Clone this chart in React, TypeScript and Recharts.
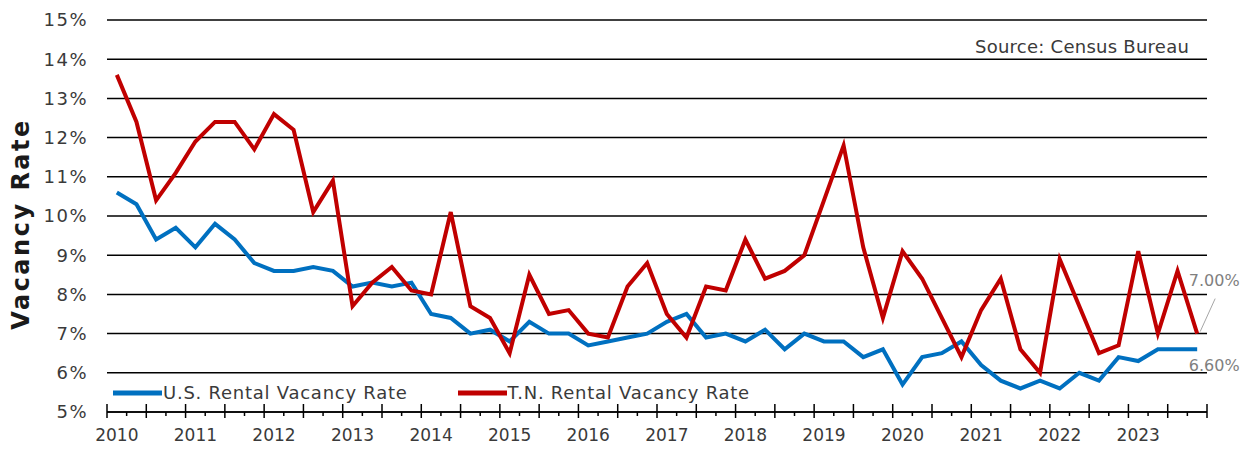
import React from 'react';
import { LineChart, Line, XAxis, YAxis, CartesianGrid, Legend, LabelList } from 'recharts';

const years = ['2010', '2011', '2012', '2013', '2014', '2015', '2016', '2017', '2018', '2019', '2020', '2021', '2022', '2023'];
const quarterNames = ['Q1', 'Q2', 'Q3', 'Q4'];
const quarters = years.flatMap((y) => quarterNames.map((q) => `${y} ${q}`));

const usRate = [
  10.6, 10.3, 9.4, 9.7, 9.2, 9.8, 9.4, 8.8, 8.6, 8.6,
  8.7, 8.6, 8.2, 8.3, 8.2, 8.3, 7.5, 7.4, 7.0, 7.1,
  6.8, 7.3, 7.0, 7.0, 6.7, 6.8, 6.9, 7.0, 7.3, 7.5,
  6.9, 7.0, 6.8, 7.1, 6.6, 7.0, 6.8, 6.8, 6.4, 6.6,
  5.7, 6.4, 6.5, 6.8, 6.2, 5.8, 5.6, 5.8, 5.6, 6.0,
  5.8, 6.4, 6.3, 6.6, 6.6, 6.6,
];

const tnRate = [
  13.6, 12.4, 10.4, 11.1, 11.9, 12.4, 12.4, 11.7, 12.6, 12.2,
  10.1, 10.9, 7.7, 8.3, 8.7, 8.1, 8.0, 10.1, 7.7, 7.4,
  6.5, 8.5, 7.5, 7.6, 7.0, 6.9, 8.2, 8.8, 7.5, 6.9,
  8.2, 8.1, 9.4, 8.4, 8.6, 9.0, 10.4, 11.8, 9.2, 7.4,
  9.1, 8.4, 7.4, 6.4, 7.6, 8.4, 6.6, 6.0, 8.9, 7.7,
  6.5, 6.7, 9.1, 7.0, 8.6, 7.0,
];

const yTicks = [5, 6, 7, 8, 9, 10, 11, 12, 13, 14, 15];

const series = [
  { key: 'us', name: 'U.S. Rental Vacancy Rate', color: '#0070C0' },
  { key: 'tn', name: 'T.N. Rental Vacancy Rate', color: '#C00000' },
];

const data = quarters.map((q, i) => ({ quarter: q, pos: i + 0.5, us: usRate[i], tn: tnRate[i] }));
const lastIndex = data.length - 1;
const boundaryTicks = Array.from({ length: quarters.length + 1 }, (_, i) => i);
const yearTicks = years.map((_, k) => k * 4 + 0.5);

const FONT = "'DejaVu Sans', sans-serif";
const TEXT = '#3a3a3a';

const renderQuarterTick = (props: any) => {
  const { x, y, payload } = props;
  const major = payload.value % 2 === 0;
  return (
    <g>
      {major ? (
        <line x1={x} x2={x} y1={y - 8} y2={y + 6} stroke="#000" strokeWidth={1.5} />
      ) : (
        <line x1={x} x2={x} y1={y} y2={y + 4} stroke="#000" strokeWidth={1.5} />
      )}
    </g>
  );
};

const makeEndLabel = (above: boolean) => (props: any) => {
  const { x, y, index, value } = props;
  if (index !== lastIndex) return null;
  const label = `${Number(value).toFixed(2)}%`;
  if (above) {
    return (
      <g>
        <line x1={x + 3} y1={y - 2} x2={x + 18} y2={y - 35} stroke="#a6a6a6" strokeWidth={1} />
        <text x={x + 17} y={y - 53} textAnchor="middle" dominantBaseline="central" fontFamily={FONT} fontSize={16} fill="#7f7f7f">
          {label}
        </text>
      </g>
    );
  }
  return (
    <text x={x + 17} y={y + 16} textAnchor="middle" dominantBaseline="central" fontFamily={FONT} fontSize={16} fill="#7f7f7f">
      {label}
    </text>
  );
};

const renderLegend = () => (
  <div style={{ display: 'flex', alignItems: 'center', fontFamily: FONT, fontSize: 18, letterSpacing: 0.75, color: TEXT, whiteSpace: 'nowrap' }}>
    {series.map((s) => (
      <div key={s.key} style={{ display: 'flex', alignItems: 'center', marginRight: 50 }}>
        <svg width={49} height={8} style={{ display: 'block' }}>
          <line x1={0} y1={4} x2={49} y2={4} stroke={s.color} strokeWidth={5} />
        </svg>
        <span style={{ marginLeft: 1 }}>{s.name}</span>
      </div>
    ))}
  </div>
);

const YTitle = (props: any) => {
  const vb = props.viewBox || {};
  const cx = (vb.x || 0) + 21;
  const cy = (vb.y || 0) + (vb.height || 0) / 2 + 8;
  return (
    <text
      x={0}
      y={0}
      transform={`translate(${cx}, ${cy}) rotate(-90)`}
      textAnchor="middle"
      dominantBaseline="central"
      fontFamily={FONT}
      fontWeight="bold"
      fontSize={24}
      letterSpacing={2.5}
      fill="#1a1a1a"
    >
      Vacancy Rate
    </text>
  );
};

export default function App() {
  return (
    <div style={{ position: 'absolute', left: 0, top: 0, width: 1248, height: 449, background: '#fff' }}>
      <LineChart width={1248} height={449} data={data} margin={{ top: 20, right: 41, left: 0, bottom: 0 }}>
        <CartesianGrid vertical={false} stroke="#000" strokeWidth={1.5} />
        <XAxis
          xAxisId="main"
          type="number"
          dataKey="pos"
          domain={[0, quarters.length]}
          allowDataOverflow
          ticks={boundaryTicks}
          interval={0}
          height={12}
          tickSize={0}
          tickMargin={0}
          tickLine={false}
          tick={renderQuarterTick}
          axisLine={{ stroke: '#000', strokeWidth: 1.5 }}
        />
        <XAxis
          xAxisId="years"
          type="number"
          dataKey="pos"
          domain={[0, quarters.length]}
          allowDataOverflow
          ticks={yearTicks}
          interval={0}
          height={25}
          tickSize={0}
          tickMargin={5}
          tickLine={false}
          axisLine={false}
          tickFormatter={(v: number) => years[Math.round((v - 0.5) / 4)]}
          tick={{ fontFamily: FONT, fontSize: 17, fill: TEXT }}
        />
        <YAxis
          type="number"
          domain={[5, 15]}
          ticks={yTicks}
          interval={0}
          width={107}
          axisLine={false}
          tickLine={false}
          tickSize={0}
          tickMargin={19}
          tickFormatter={(v: number) => `${v}%`}
          tick={{ fontFamily: FONT, fontSize: 18, letterSpacing: 1.5, fill: TEXT }}
          label={{ content: (p: any) => <YTitle {...p} /> }}
        />
        <Legend
          layout="horizontal"
          align="center"
          verticalAlign="middle"
          wrapperStyle={{ left: 113, top: 382, width: 'auto' }}
          content={renderLegend}
        />
        <Line
          xAxisId="main"
          type="linear"
          dataKey="us"
          name={series[0].name}
          stroke={series[0].color}
          strokeWidth={4}
          dot={false}
          activeDot={false}
          isAnimationActive={false}
        >
          <LabelList dataKey="us" content={makeEndLabel(false)} />
        </Line>
        <Line
          xAxisId="main"
          type="linear"
          dataKey="tn"
          name={series[1].name}
          stroke={series[1].color}
          strokeWidth={4}
          dot={false}
          activeDot={false}
          isAnimationActive={false}
        >
          <LabelList dataKey="tn" content={makeEndLabel(true)} />
        </Line>
      </LineChart>
      <div
        style={{
          position: 'absolute',
          left: 975,
          top: 36,
          fontFamily: FONT,
          fontSize: 18,
          letterSpacing: 0.25,
          color: TEXT,
          whiteSpace: 'nowrap',
        }}
      >
        Source: Census Bureau
      </div>
    </div>
  );
}
